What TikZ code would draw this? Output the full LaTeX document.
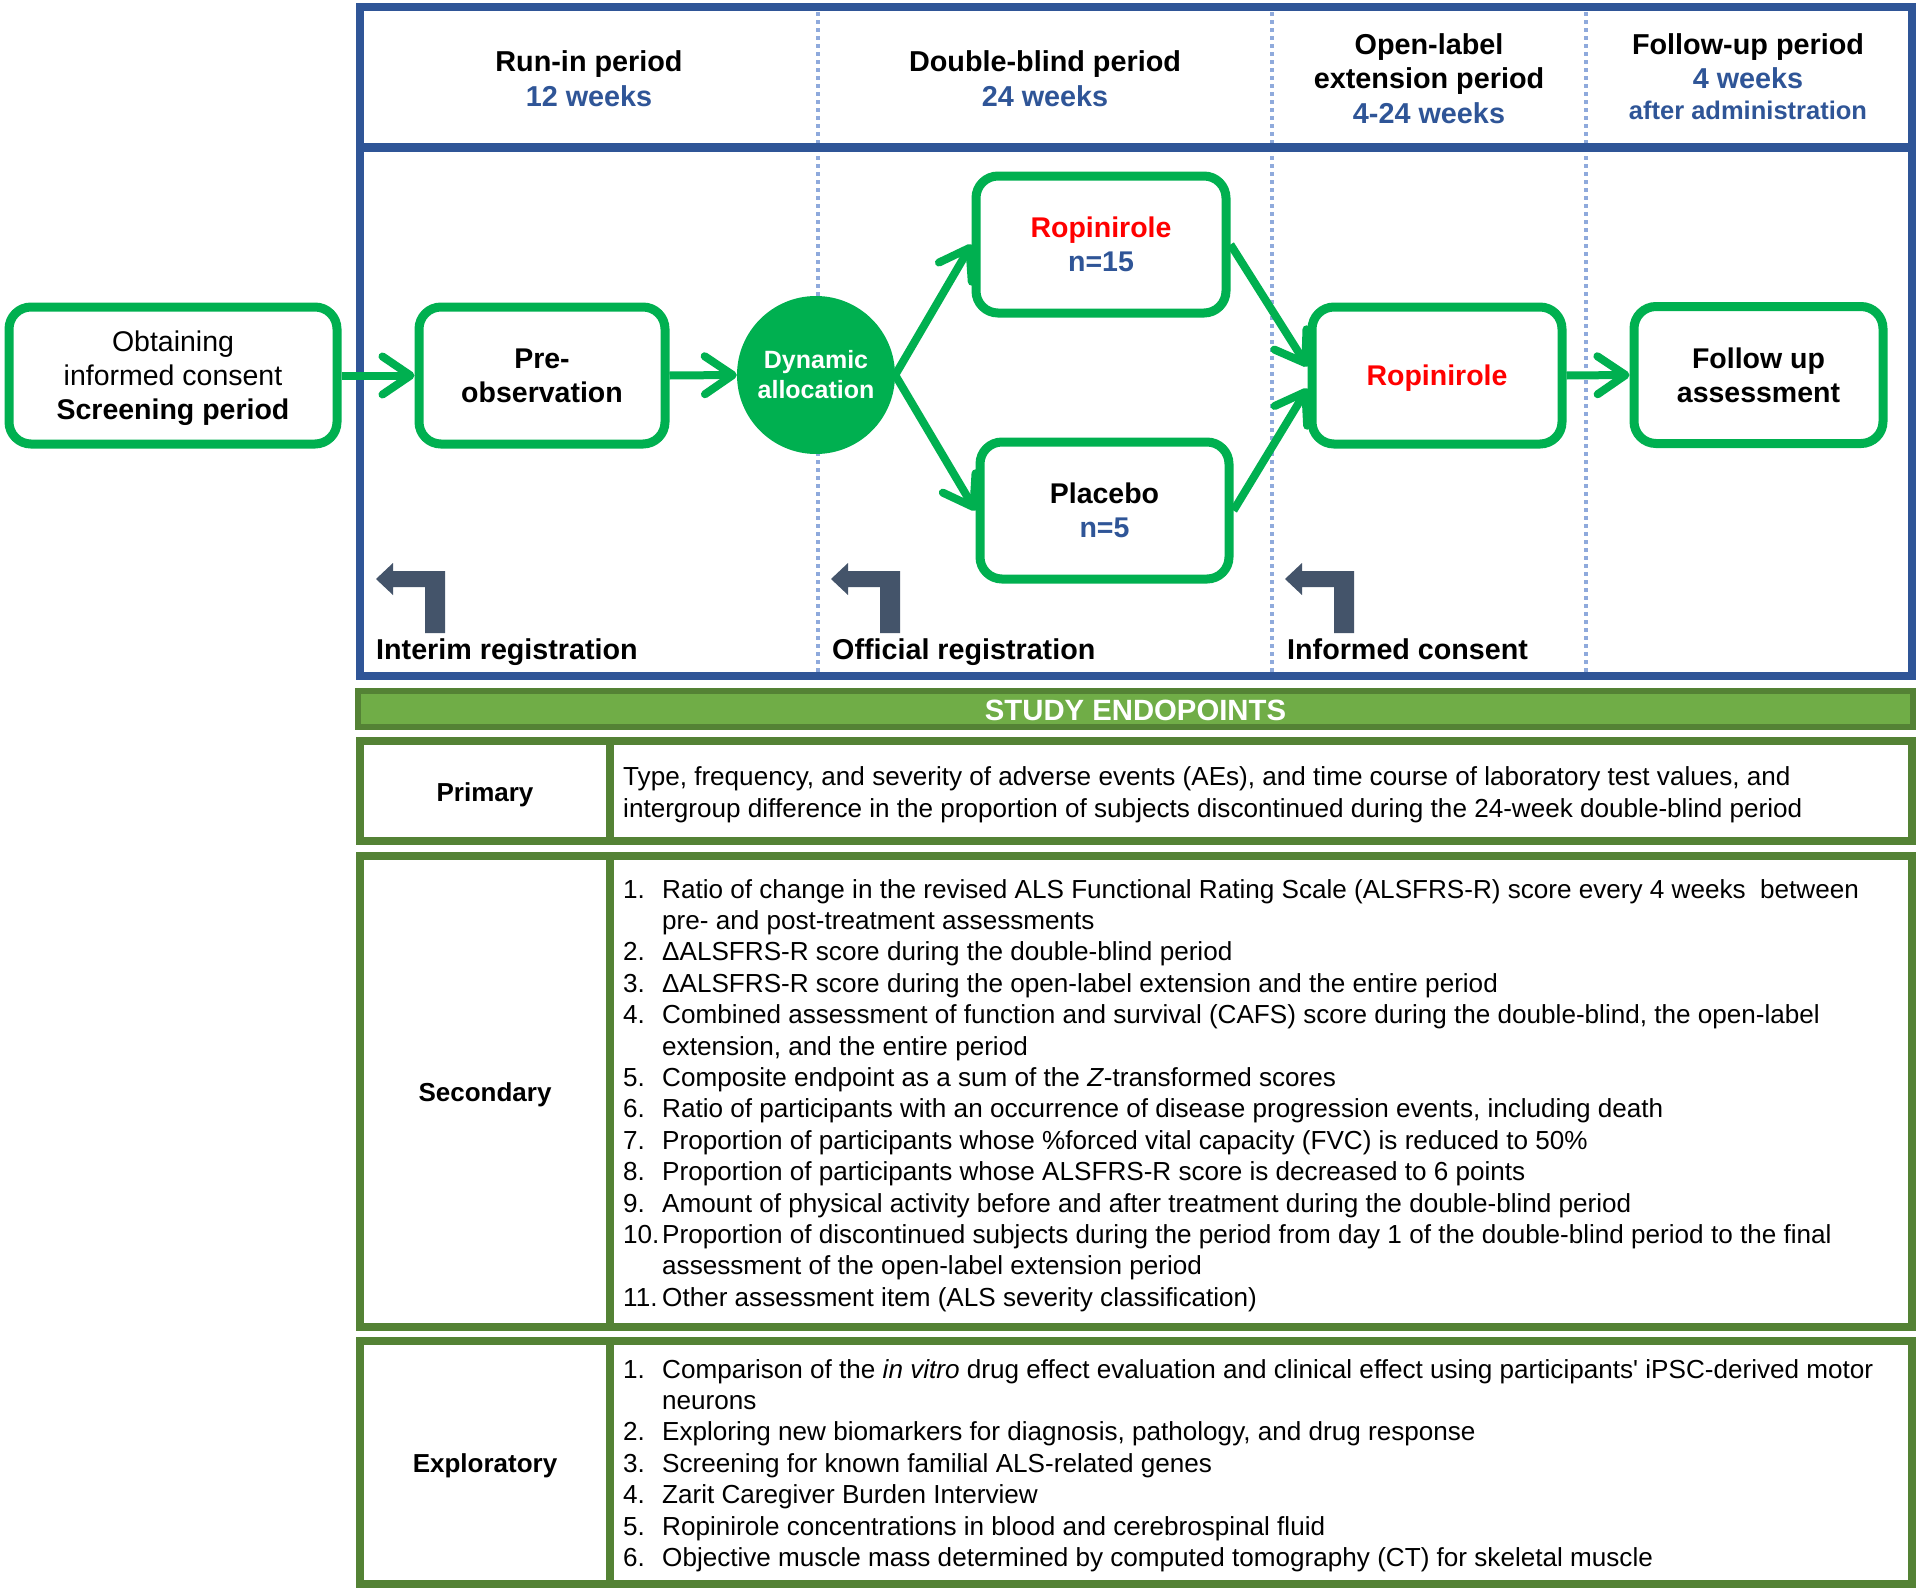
\documentclass[tikz,border=0pt]{standalone}
\usepackage{fontspec}
\setmainfont{Liberation Sans}
\newfontfamily\qfont{Liberation Sans}[Ligatures=TeXOff]
\usetikzlibrary{arrows.meta,calc}
\definecolor{fgreen}{HTML}{00B050}
\definecolor{fblue}{HTML}{2F5597}
\definecolor{dotblue}{HTML}{8FAADC}
\definecolor{slate}{HTML}{44546A}
\definecolor{tdark}{HTML}{548235}
\definecolor{tlight}{HTML}{70AD47}
\definecolor{rred}{HTML}{FF0000}
\begin{document}
\begin{tikzpicture}[x=1pt,y=-1pt,
  flowbox/.style={draw=fgreen, line width=9pt, rounded corners=22pt, minimum height=137pt, align=center, inner sep=0pt, font=\fontsize{28.5}{34}\selectfont\bfseries},
  flowarrow/.style={draw=fgreen, line width=8pt, -{Straight Barb[length=28pt,width=38pt,round]}},
  hd/.style={anchor=base, inner sep=0pt, font=\fontsize{28.8}{34}\selectfont\bfseries},
  hdb/.style={hd, text=fblue},
  reglabel/.style={anchor=base west, inner sep=0pt, font=\fontsize{28.7}{34}\selectfont\bfseries},
  dotline/.style={draw=dotblue, line width=4pt, dash pattern=on 4pt off 4pt},
  rowbox/.style={draw=tdark, line width=8pt},
  rowlabel/.style={anchor=base, inner sep=0pt, font=\fontsize{26}{31}\selectfont\bfseries},
  itm/.style={anchor=base west, inner sep=0pt, font=\fontsize{26.1}{31}\selectfont},
]
\useasboundingbox (0,0) rectangle (1920,1590);
\fill[white] (0,0) rectangle (1920,1590);

% dotted period separators
\draw[dotline] (818,12) -- (818,672);
\draw[dotline] (1272,12) -- (1272,672);
\draw[dotline] (1586,12) -- (1586,672);

% blue frame
\draw[fblue, line width=8pt] (360,7) rectangle (1912,676);
\draw[fblue, line width=9pt] (360,147) -- (1912,147);

% header texts
\node[hd]  (h1a) at (589,71) {Run-in period};
\node[hdb] (h1b) at (589,106) {12 weeks};
\node[hd]  (h2a) at (1045,71) {Double-blind period};
\node[hdb] (h2b) at (1045,106) {24 weeks};
\node[hd]  (h3a) at (1429,54) {Open-label};
\node[hd]  (h3b) at (1429,88) {extension period};
\node[hdb] (h3c) at (1429,123) {4-24 weeks};
\node[hd]  (h4a) at (1748,54) {Follow-up period};
\node[hdb] (h4b) at (1748,88) {4 weeks};
\node[hdb, font=\fontsize{25.5}{30}\selectfont\bfseries] (h4c) at (1748,119) {after administration};

% flow boxes
\node[flowbox, minimum width=328pt, text depth=0pt] (screen) at (173,375.5)
  {\mdseries Obtaining\\\mdseries informed consent\\Screening period};
\node[flowbox, minimum width=246pt] (pre) at (542,375.5) {Pre-\\observation};
\node[circle, fill=fgreen, minimum size=158pt, inner sep=0pt, align=center, text=white,
  font=\fontsize{25}{30}\selectfont\bfseries] (dyn) at (816,375) {Dynamic\\allocation};
\node[flowbox, minimum width=250pt] (ropA) at (1101,244.5) {\textcolor{rred}{Ropinirole}\\\textcolor{fblue}{n=15}};
\node[flowbox, minimum width=249pt] (plac) at (1104.5,510.5) {Placebo\\\textcolor{fblue}{n=5}};
\node[flowbox, minimum width=250pt, text=rred, text depth=0pt] (ropB) at (1437,375.5) {Ropinirole};
\node[flowbox, minimum width=249pt] (fu) at (1758.5,375) {Follow up\\assessment};

% flow arrows
\draw[flowarrow] (screen.east) -- (pre.west);
\draw[flowarrow] (pre.east) -- (dyn.west);
\draw[flowarrow] (dyn.east) -- (ropA.west);
\draw[flowarrow] (dyn.east) -- (plac.west);
\draw[flowarrow] (ropA.east) -- ($(ropB.west)+(0,-9)$);
\draw[flowarrow] (plac.east) -- ($(ropB.west)+(0,13)$);
\draw[flowarrow] (ropB.east) -- (fu.west);

% registration markers
\foreach \dx in {0,455,909}{
  \fill[slate] (376+\dx,579) -- (393+\dx,563) -- (393+\dx,571) -- (445+\dx,571)
    -- (445+\dx,633) -- (425+\dx,633) -- (425+\dx,587) -- (393+\dx,587) -- (393+\dx,595) -- cycle;
}
\node[reglabel] (reg1) at (376,659) {Interim registration};
\node[reglabel] (reg2) at (832,659) {Official registration};
\node[reglabel] (reg3) at (1287,659) {Informed consent};

% study endpoints bar
\draw[draw=tdark, fill=tlight, line width=6pt] (358,691) rectangle (1913,727);
\node[inner sep=0pt, text=white, font=\fontsize{29.3}{34}\selectfont\bfseries] (ttl) at (1135.5,710) {STUDY ENDOPOINTS};

% primary row
\draw[rowbox] (360,741) rectangle (1912,841);
\draw[rowbox] (610,741) -- (610,841);
\node[rowlabel] (lp) at (485,801) {Primary};
\node[itm] (p1) at (623,785) {Type, frequency, and severity of adverse events (AEs), and time course of laboratory test values, and};
\node[itm] (p2) at (623,817) {intergroup difference in the proportion of subjects discontinued during the 24-week double-blind period};

% secondary row
\draw[rowbox] (360,856) rectangle (1912,1327);
\draw[rowbox] (610,856) -- (610,1327);
\node[rowlabel] (ls) at (485,1101) {Secondary};
\node[itm] (sn1) at (623,898) {1.};
\node[itm] (st1) at (662,898) {Ratio of change in the revised ALS Functional Rating Scale (ALSFRS-R) score every 4 weeks~ between};
\node[itm] (st1b) at (662,929.4) {pre- and post-treatment assessments};
\node[itm] (sn2) at (623,960.8) {2.};
\node[itm] (st2) at (662,960.8) {ΔALSFRS-R score during the double-blind period};
\node[itm] (sn3) at (623,992.2) {3.};
\node[itm] (st3) at (662,992.2) {ΔALSFRS-R score during the open-label extension and the entire period};
\node[itm] (sn4) at (623,1023.6) {4.};
\node[itm] (st4) at (662,1023.6) {Combined assessment of function and survival (CAFS) score during the double-blind, the open-label};
\node[itm] (st4b) at (662,1055) {extension, and the entire period};
\node[itm] (sn5) at (623,1086.4) {5.};
\node[itm] (st5) at (662,1086.4) {Composite endpoint as a sum of the \textit{Z}-transformed scores};
\node[itm] (sn6) at (623,1117.8) {6.};
\node[itm] (st6) at (662,1117.8) {Ratio of participants with an occurrence of disease progression events, including death};
\node[itm] (sn7) at (623,1149.2) {7.};
\node[itm] (st7) at (662,1149.2) {Proportion of participants whose \%forced vital capacity (FVC) is reduced to 50\%};
\node[itm] (sn8) at (623,1180.6) {8.};
\node[itm] (st8) at (662,1180.6) {Proportion of participants whose ALSFRS-R score is decreased to 6 points};
\node[itm] (sn9) at (623,1212) {9.};
\node[itm] (st9) at (662,1212) {Amount of physical activity before and after treatment during the double-blind period};
\node[itm] (sn10) at (623,1243.4) {10.};
\node[itm] (st10) at (662,1243.4) {Proportion of discontinued subjects during the period from day 1 of the double-blind period to the final};
\node[itm] (st10b) at (662,1274.8) {assessment of the open-label extension period};
\node[itm] (sn11) at (623,1306.2) {11.};
\node[itm] (st11) at (662,1306.2) {Other assessment item (ALS severity classification)};

% exploratory row
\draw[rowbox] (360,1341) rectangle (1912,1584);
\draw[rowbox] (610,1341) -- (610,1584);
\node[rowlabel] (le) at (485,1472) {Exploratory};
\node[itm] (en1) at (623,1378) {1.};
\node[itm] (et1) at (662,1378) {Comparison of the \textit{in vitro} drug effect evaluation and clinical effect using participants{\qfont '} iPSC-derived motor};
\node[itm] (et1b) at (662,1409.4) {neurons};
\node[itm] (en2) at (623,1440.8) {2.};
\node[itm] (et2) at (662,1440.8) {Exploring new biomarkers for diagnosis, pathology, and drug response};
\node[itm] (en3) at (623,1472.2) {3.};
\node[itm] (et3) at (662,1472.2) {Screening for known familial ALS-related genes};
\node[itm] (en4) at (623,1503.6) {4.};
\node[itm] (et4) at (662,1503.6) {Zarit Caregiver Burden Interview};
\node[itm] (en5) at (623,1535) {5.};
\node[itm] (et5) at (662,1535) {Ropinirole concentrations in blood and cerebrospinal fluid};
\node[itm] (en6) at (623,1566.4) {6.};
\node[itm] (et6) at (662,1566.4) {Objective muscle mass determined by computed tomography (CT) for skeletal muscle};
\end{tikzpicture}
\end{document}
